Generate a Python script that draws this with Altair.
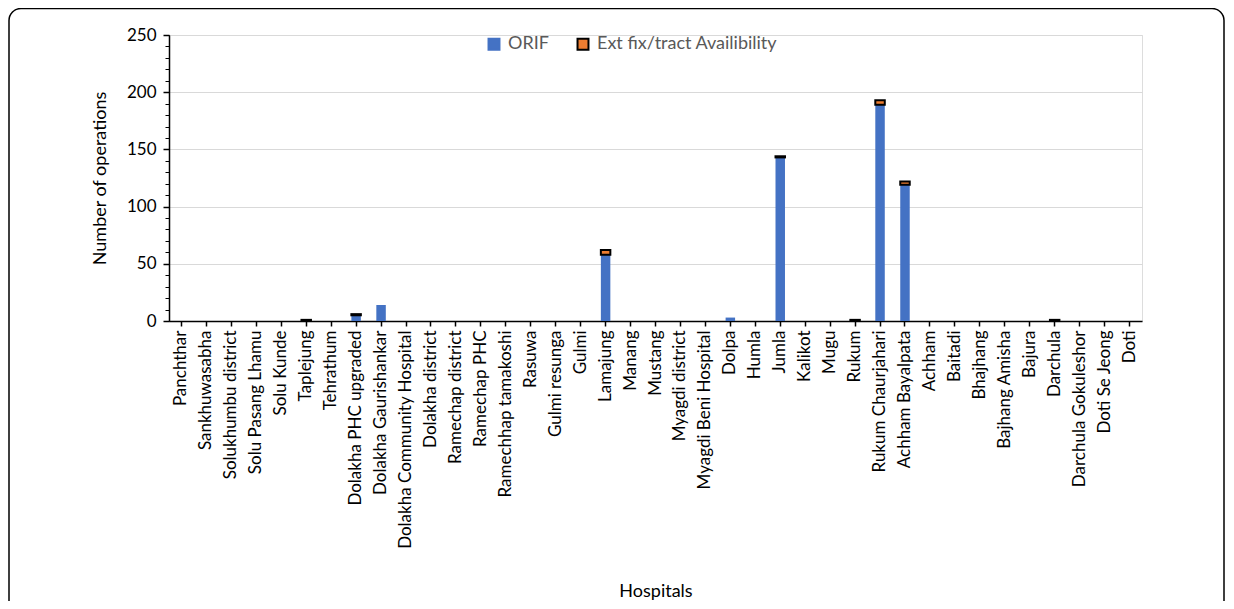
import altair as alt
import pandas as pd

hospitals = [
    "Panchthar", "Sankhuwasabha", "Solukhumbu district", "Solu Pasang Lhamu",
    "Solu Kunde", "Taplejung", "Tehrathum", "Dolakha PHC upgraded",
    "Dolakha Gaurishankar", "Dolakha Community Hospital", "Dolakha district",
    "Ramechap district", "Ramechap PHC", "Ramechhap tamakoshi", "Rasuwa",
    "Gulmi resunga", "Gulmi", "Lamajung", "Manang", "Mustang",
    "Myagdi district", "Myagdi Beni Hospital", "Dolpa", "Humla", "Jumla",
    "Kalikot", "Mugu", "Rukum", "Rukum Chaurjahari", "Achham Bayalpata",
    "Achham", "Baitadi", "Bhajhang", "Bajhang Amisha", "Bajura", "Darchula",
    "Darchula Gokuleshor", "Doti Se Jeong", "Doti",
]
orif = [0, 0, 0, 0, 0, 0, 0, 5, 14, 0, 0, 0, 0, 0, 0, 0, 0, 58, 0, 0,
        0, 0, 3, 0, 143, 0, 0, 0, 189, 119, 0, 0, 0, 0, 0, 0, 0, 0, 0]
ext = [0, 0, 0, 0, 0, 1, 0, 1, 0, 0, 0, 0, 0, 0, 0, 0, 0, 4, 0, 0,
       0, 0, 0, 0, 1, 0, 0, 1, 4, 3, 0, 0, 0, 0, 0, 1, 0, 0, 0]
series_names = ["ORIF", "Ext fix/tract Availibility"]
y_ticks = [0, 50, 100, 150, 200, 250]

rows = []
for h, o, e in zip(hospitals, orif, ext):
    rows.append({"hospital": h, "series": series_names[0], "value": o, "ord": 0})
    rows.append({"hospital": h, "series": series_names[1], "value": e, "ord": 1})
df = pd.DataFrame(rows)

W, H = 973, 286
PL, PT, PR, PB = 161, 27, 84, 280
FONT = "Lato"

yscale = alt.Scale(domain=[0, 250], nice=False)

legend = alt.Legend(
    title=None, orient="none", legendX=316, legendY=0, direction="horizontal",
    labelFontSize=18, labelColor="#595959", labelFont=FONT, columnPadding=24,
    labelLimit=400, symbolType="square", symbolSize=120, symbolStrokeWidth=2,
    labelOffset=5,
)

bars = alt.Chart(df).transform_filter("datum.value > 0").mark_bar(clip=False).encode(
    x=alt.X(
        "hospital:N",
        scale=alt.Scale(domain=hospitals, paddingInner=0.62, paddingOuter=0.31),
        axis=alt.Axis(
            title="Hospitals", labelAngle=-90, labelFontSize=17, labelColor="black",
            labelFont=FONT, labelOverlap=False, labelLimit=400, labelPadding=4,
            tickColor="black", tickSize=5, tickWidth=1.5, domainColor="black",
            domainWidth=1.5, titleFontSize=18, titleColor="black", titleFont=FONT,
            titleFontWeight="normal", titleY=261, titleBaseline="top", grid=False,
        ),
    ),
    y=alt.Y(
        "value:Q", stack="zero", scale=yscale,
        axis=alt.Axis(
            values=y_ticks, title="Number of operations", labelFontSize=17,
            labelColor="black", labelFont=FONT, labelPadding=7,
            domainColor="black", domainWidth=1.5, tickColor="black", tickSize=6,
            tickWidth=1.5, titleFontSize=18, titleColor="black", titleFont=FONT,
            titleFontWeight="normal", titleX=-69, titleY=143, titleAlign="center",
            titleBaseline="middle", grid=True, gridColor="#d9d9d9", gridWidth=1,
        ),
    ),
    fill=alt.Fill("series:N", scale=alt.Scale(domain=series_names, range=["#4472C4", "#ED7D31"]), legend=legend),
    stroke=alt.Stroke("series:N", scale=alt.Scale(domain=series_names, range=["#4472C4", "#000000"]), legend=legend),
    strokeWidth=alt.condition("datum.series == 'ORIF'", alt.value(0), alt.value(2)),
    order=alt.Order("ord:Q"),
)

minor = alt.Chart(df).mark_point(opacity=0).encode(
    y=alt.Y(
        "value:Q", scale=yscale,
        axis=alt.Axis(
            orient="left", values=list(range(0, 251, 10)), labels=False, grid=False,
            domain=False, ticks=True, tickSize=4, tickColor="black", tickWidth=1,
            title=None,
        ),
    )
)

frame = alt.Chart(pd.DataFrame({"k": [0]})).mark_rect(
    fillOpacity=0, stroke="black", strokeWidth=1.5, cornerRadius=12, clip=False
).encode(
    x=alt.value(-PL + 1), x2=alt.value(W + PR - 2),
    y=alt.value(-PT + 0.5), y2=alt.value(H + PB + 30),
)

chart = alt.layer(frame, bars, minor).resolve_axis(y="independent").properties(
    width=W, height=H,
    autosize=alt.AutoSizeParams(type="none"),
    padding={"left": PL, "top": PT, "right": PR, "bottom": PB},
).configure_view(stroke=None).configure(font=FONT)

chart.save("out.html", embed_options={"renderer": "svg", "actions": False})
